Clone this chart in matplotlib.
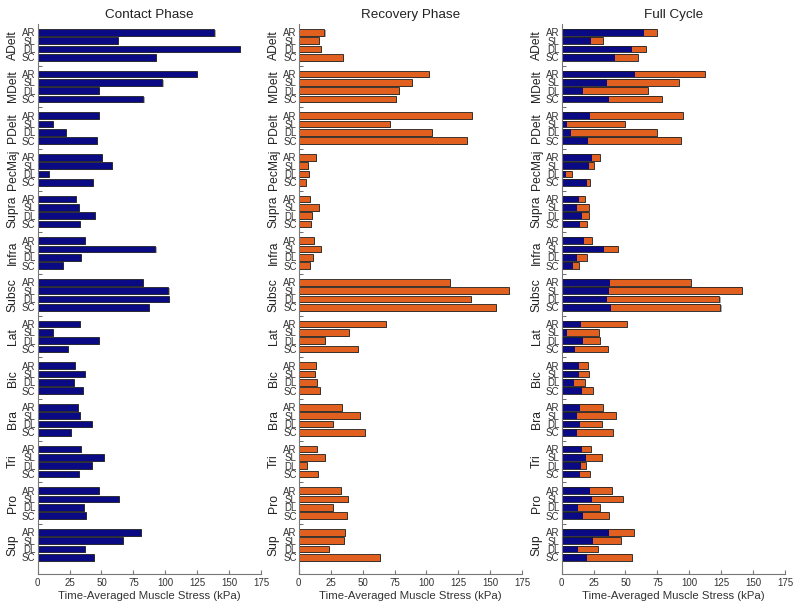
import numpy as np
import matplotlib
matplotlib.use('Agg')
import matplotlib.pyplot as plt
import matplotlib.patheffects as pe
from matplotlib.transforms import blended_transform_factory

plt.rcParams['font.family'] = ['Liberation Sans', 'DejaVu Sans']

muscles = ['ADelt', 'MDelt', 'PDelt', 'PecMaj', 'Supra', 'Infra', 'Subsc',
           'Lat', 'Bic', 'Bra', 'Tri', 'Pro', 'Sup']
gaits = ['AR', 'SL', 'DL', 'SC']

# 每块肌肉: AR, SL, DL, SC
contact = [
    [138.4, 62.9, 158.3, 92.7],
    [124.6, 97.7, 48.0, 82.8],
    [48.3, 12.2, 21.9, 46.7],
    [50.1, 58.5, 9.1, 43.6],
    [29.8, 32.6, 44.7, 33.1],
    [37.3, 92.2, 33.9, 20.1],
    [82.3, 102.4, 102.9, 87.2],
    [33.1, 12.2, 48.3, 24.0],
    [29.2, 36.8, 28.2, 35.5],
    [31.6, 33.1, 42.3, 26.3],
    [33.9, 52.2, 42.8, 32.6],
    [48.0, 64.0, 36.5, 37.9],
    [81.2, 66.8, 37.3, 44.1],
]
recovery = [
    [20.1, 16.1, 17.2, 34.4],
    [101.7, 88.4, 78.7, 75.9],
    [135.9, 71.7, 104.3, 131.7],
    [13.3, 7.5, 8.3, 5.7],
    [9.1, 15.6, 10.2, 9.6],
    [12.0, 17.2, 11.4, 9.1],
    [118.1, 164.3, 134.6, 154.6],
    [68.0, 39.4, 20.3, 46.6],
    [13.8, 12.8, 14.3, 16.7],
    [34.1, 48.2, 26.6, 52.1],
    [14.3, 20.6, 6.7, 15.3],
    [33.1, 38.8, 26.8, 37.8],
    [36.5, 35.4, 24.0, 63.9],
]
# 全周期: 接触部分 + 恢复部分
full_contact = [
    [64.5, 23.0, 55.1, 41.8],
    [57.4, 35.3, 16.5, 36.8],
    [22.2, 4.4, 7.0, 20.9],
    [23.5, 21.4, 3.1, 19.6],
    [13.6, 11.8, 15.7, 14.6],
    [17.2, 33.4, 11.8, 8.9],
    [38.1, 37.1, 35.8, 38.6],
    [15.1, 4.4, 16.9, 10.7],
    [13.6, 13.3, 9.6, 15.9],
    [14.6, 11.8, 14.6, 11.8],
    [15.7, 19.0, 14.9, 14.3],
    [22.2, 23.5, 13.0, 16.9],
    [37.3, 24.3, 13.0, 19.8],
]
full_recovery = [
    [10.2, 9.6, 10.7, 18.2],
    [54.9, 56.4, 51.4, 41.8],
    [73.1, 45.2, 67.9, 72.6],
    [6.8, 4.2, 5.2, 2.8],
    [4.7, 9.4, 5.9, 5.0],
    [6.3, 11.0, 7.8, 4.7],
    [63.0, 104.0, 87.7, 85.7],
    [36.3, 25.1, 13.4, 25.3],
    [7.3, 7.9, 8.9, 8.9],
    [18.0, 30.5, 17.2, 28.6],
    [7.5, 12.8, 3.9, 8.1],
    [17.2, 24.3, 16.8, 20.4],
    [19.6, 21.9, 15.4, 35.1],
]

blue = '#0a0a85'
orange = '#e2601f'
txt = '#333333'
shadow = [pe.SimplePatchShadow(offset=(0.8, -0.8), shadow_rgbFace='#888888', alpha=0.7), pe.Normal()]

n_g = len(gaits)
ypos = np.array([[g * (n_g + 1) + i for i in range(n_g)] for g in range(len(muscles))])
y_flat = ypos.ravel()
bounds = [g * (n_g + 1) + n_g for g in range(len(muscles) - 1)]

fig = plt.figure(figsize=(8, 6.09), dpi=100)
lefts = [0.047, 0.3734, 0.702]
titles = ['Contact Phase', 'Recovery Phase', 'Full Cycle']


def setup(ax, title):
    ax.set_xlim(0, 175)
    ax.set_ylim(len(muscles) * (n_g + 1), -1)
    ax.spines['top'].set_visible(False)
    ax.spines['right'].set_visible(False)
    for s in ['left', 'bottom']:
        ax.spines[s].set_color('#777777')
        ax.spines[s].set_linewidth(0.8)
    ax.set_yticks(y_flat)
    ax.set_yticklabels(gaits * len(muscles), fontsize=7, color=txt)
    ax.set_yticks(bounds, minor=True)
    ax.tick_params(axis='y', which='major', length=0, pad=1.5)
    ax.tick_params(axis='y', which='minor', length=3, direction='in', color='#555555')
    ax.set_xticks(np.arange(0, 176, 25))
    ax.tick_params(axis='x', labelsize=7, labelcolor=txt, color='#777777', length=3,
                   direction='in', pad=3)
    ax.set_xlabel('Time-Averaged Muscle Stress (kPa)', fontsize=8.2, color=txt, labelpad=2)
    ax.set_title(title, fontsize=9.7, color='#222222', pad=4)
    tr = blended_transform_factory(ax.transAxes, ax.transData)
    for g, m in enumerate(muscles):
        ax.annotate(m, xy=(0, ypos[g].mean()), xycoords=tr, xytext=(-18, 0),
                    textcoords='offset points', rotation=90, ha='center', va='center',
                    fontsize=8.7, color='#222222')


vals = [np.array(contact).ravel(), np.array(recovery).ravel()]
cols = [blue, orange]
for k in range(3):
    ax = fig.add_axes([lefts[k], 0.0575, 0.2795, 0.903])
    if k < 2:
        ax.barh(y_flat, vals[k], height=0.8, color=cols[k], edgecolor='#222222',
                linewidth=0.6, path_effects=shadow)
    else:
        fc = np.array(full_contact).ravel()
        fr = np.array(full_recovery).ravel()
        ax.barh(y_flat, fc + fr, height=0.8, color='none', edgecolor='none',
                path_effects=shadow)
        ax.barh(y_flat, fc, height=0.8, color=blue, edgecolor='none')
        ax.barh(y_flat, fr, left=fc, height=0.8, color=orange, edgecolor='none')
        ax.barh(y_flat, fc + fr, height=0.8, color='none', edgecolor='#222222', linewidth=0.6)
    setup(ax, titles[k])

fig.savefig('out.png', dpi=100)
